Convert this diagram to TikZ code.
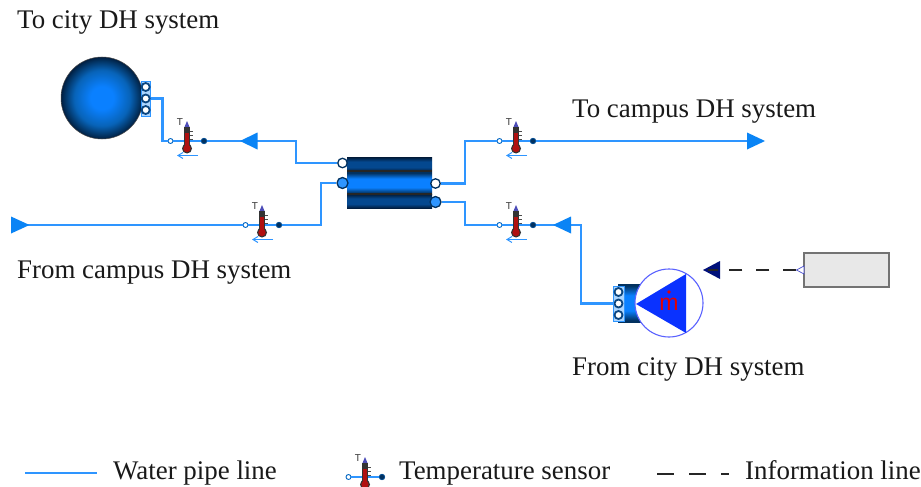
\documentclass[tikz,border=0pt]{standalone}
\usepackage{fontspec}
\setmainfont{Liberation Serif}
\newfontfamily\labelsans{Liberation Sans}
\definecolor{pipe}{HTML}{2E95FF}
\definecolor{flow}{HTML}{0A84F5}
\definecolor{bright}{HTML}{0A80FF}
\definecolor{darkb}{HTML}{02315F}
\definecolor{deepb}{HTML}{011E40}
\definecolor{midb}{HTML}{04488F}
\definecolor{pumpblue}{HTML}{0A32FF}
\definecolor{navyinfo}{HTML}{00107A}
\definecolor{ring}{HTML}{5A62FF}
\definecolor{therm}{HTML}{B01010}
\pgfdeclareradialshading{ballblue}{\pgfpoint{0bp}{0bp}}{%
  color(0bp)=(bright); color(7bp)=(bright); color(17bp)=(flow!75!black);
  color(23bp)=(darkb); color(25bp)=(deepb); color(50bp)=(deepb)}
\pgfdeclareverticalshading{coreblue}{100bp}{%
  color(0bp)=(darkb); color(27bp)=(darkb); color(40bp)=(bright); color(60bp)=(bright);
  color(73bp)=(darkb); color(100bp)=(darkb)}
\pgfdeclareverticalshading{sideblue}{100bp}{%
  color(0bp)=(deepb); color(25bp)=(deepb); color(40bp)=(midb); color(60bp)=(midb); color(75bp)=(deepb); color(100bp)=(deepb)}
\usetikzlibrary{arrows.meta}
\tikzset{
  x=1pt,y=-1pt,
  pipeline/.style={draw=pipe,line width=2.2pt,line join=miter},
  caption/.style={anchor=base west,inner sep=0pt,font=\fontsize{26.9}{30}\selectfont,text=black!90},
  portw/.style={circle,draw=darkb,fill=white,line width=1.3pt,minimum size=9.5pt,inner sep=0pt},
  portb/.style={circle,draw=darkb,fill=pipe,line width=1.3pt,minimum size=11pt,inner sep=0pt},
  sideport/.style={circle,draw=darkb!80!pipe,fill=white,line width=1.8pt,minimum size=8pt,inner sep=0pt},
  sensorw/.style={circle,draw=flow!80!black,fill=white,line width=.9pt,minimum size=5pt,inner sep=0pt},
  sensorb/.style={circle,draw=flow!60!black,fill=darkb,line width=.8pt,minimum size=5.5pt,inner sep=0pt},
  tsensor/.pic={
    \node[sensorw] (a) at (-16.5,0) {};
    \node[sensorb] (b) at (17,0) {};
    \draw[draw=pipe,line width=1.8pt] (a) -- (b);
    \fill[blue!60!black!70] (-2.5,-14) -- (0,-20) -- (2.5,-14) -- cycle;
    \node[font=\labelsans\fontsize{10}{10}\selectfont,text=black!80,inner sep=0pt] (t) at (-7,-19) {T};
    \draw[black!70,line width=.7pt] (2,-10) -- (6,-10) (2,-6) -- (6,-6) (2,-2) -- (6,-2);
    \fill[black!80] (-3,-14) rectangle (3,7);
    \fill[black!80] (0,7.5) circle (5);
    \fill[therm] (-1.8,-8) rectangle (1.8,7);
    \fill[therm] (0,7.5) circle (3.7);
    \draw[draw=pipe,line width=1pt,-{Straight Barb[length=5pt,width=6pt]}] (11,14.5) -- (-10,14.5);
  }
}
\begin{document}
\begin{tikzpicture}
\clip (0,0) rectangle (921,487);
\fill[white] (0,0) rectangle (921,487);

% routing coordinates
\coordinate (camIn) at (16,225);
\coordinate (camOut) at (752,141);

% tank
\node[circle,minimum size=82pt,inner sep=0pt,draw=black!70,line width=.5pt,shading=ballblue] (tank) at (102,98) {};
\fill[pipe!40] (141,81.5) rectangle (150.5,116);
\draw[pipe,line width=1pt] (141,81.5) rectangle (150.5,116);

% heat exchanger
\node[minimum width=85pt,minimum height=50.5pt,inner sep=0pt] (hx) at (389.5,183) {};
\shade[shading=sideblue] (347,157.5) rectangle (432,171.5);
\shade[shading=coreblue] (347,172) rectangle (432,194);
\shade[shading=sideblue] (347,194.5) rectangle (432,208);
\fill[black!85] (347,170.3) rectangle (432,172.3);
\fill[black!85] (347,193) rectangle (432,195);

% pump
\node[minimum width=25pt,minimum height=38pt,inner sep=0pt] (pbody) at (630,303) {};
\shade[shading=coreblue] (618,284) rectangle (642,322);
\node[circle,minimum size=68pt,inner sep=0pt,draw=ring,fill=white,line width=1.1pt] (pump) at (669,303) {};
\fill[pumpblue] (636,304) -- (686,274) -- (686,333) -- cycle;
\node[anchor=base,font=\labelsans\fontsize{23}{23}\selectfont,text=red!90!black,inner sep=0pt] (mdot) at (669,310) {m};
\fill[red!90!black] (669,292) circle (1.8);
\fill[pipe!40] (613,286) rectangle (624,321);
\draw[pipe,line width=1pt] (613,286) rectangle (624,321);

% sensors
\pic (sa) at (187,141) {tsensor};
\pic (sb) at (262,225) {tsensor};
\pic (sc) at (516,141) {tsensor};
\pic (sd) at (516,225) {tsensor};

% ports
\node[sideport] (tp1) at (145.7,87) {};
\node[sideport] (tp2) at (145.7,98.5) {};
\node[sideport] (tp3) at (145.7,110) {};
\node[sideport] (pp1) at (618.5,292) {};
\node[sideport] (pp2) at (618.5,303.5) {};
\node[sideport] (pp3) at (618.5,315) {};
\node[portw] (hl1) at (342.5,163) {};
\node[portb] (hl2) at (342.5,183) {};
\node[portw] (hr1) at (435.5,183.5) {};
\node[portb] (hr2) at (435.5,202) {};

% pipes
\draw[pipeline] (tp2.east) -- (162.5,98.5) |- (saa.west);
\draw[pipeline] (sab.east) -- (296,141) |- (hl1.west);
\draw[pipeline] (camIn) -- (sba.west);
\draw[pipeline] (sbb.east) -- (321,225) |- (hl2.west);
\draw[pipeline] (hr1.east) -- (465,183.5) |- (sca.west);
\draw[pipeline] (scb.east) -- (camOut);
\draw[pipeline] (hr2.east) -- (465,202) |- (sda.west);
\draw[pipeline] (sdb.east) -- (581,225) |- (pp2.west);

% flow arrowheads
\fill[flow] (240,141) -- (257.5,132.5) -- (257.5,149.5) -- cycle;
\fill[flow] (553,225) -- (571,216.5) -- (571,233.5) -- cycle;
\fill[flow] (11,216.5) -- (29.5,225) -- (11,233.5) -- cycle;
\fill[flow] (747,132.5) -- (765,141) -- (747,149.5) -- cycle;

% information line
\node[draw=black!55,fill=black!9,line width=1.2pt,minimum width=85pt,minimum height=34pt,inner sep=0pt] (src) at (846.5,270) {};
\coordinate (sink) at (729,270);
\draw[draw=black!85,line width=1.7pt,dash pattern=on 13pt off 14pt] (src.west) ++(-7,0) -- (sink);
\fill[navyinfo] (703,270) -- (720,261) -- (720,279) -- cycle;
\draw[black!85,line width=1.7pt] (708,270) -- (718,270);
\draw[ring!80!black,fill=white,line width=.7pt] (796.5,270) -- (804,266) -- (804,274) -- cycle;

% captions
\node[caption] (c1) at (17,28.7) {To city DH system};
\node[caption] (c2) at (572,117.7) {To campus DH system};
\node[caption] (c3) at (17,278.7) {From campus DH system};
\node[caption] (c4) at (572,375.7) {From city DH system};

% legend
\coordinate (l1a) at (25,473); \coordinate (l1b) at (97,473);
\draw[pipeline] (l1a) -- (l1b);
\node[caption] (c5) at (113,479.7) {Water pipe line};
\pic (sl) at (365,477) {tsensor};
\node[caption] (c6) at (399,479.7) {Temperature sensor};
\coordinate (l2a) at (657,474); \coordinate (l2b) at (729,474);
\draw[draw=black!85,line width=1.7pt,dash pattern=on 17pt off 15pt] (l2a) -- (l2b);
\node[caption] (c7) at (745,479.7) {Information line};
\end{tikzpicture}
\end{document}
